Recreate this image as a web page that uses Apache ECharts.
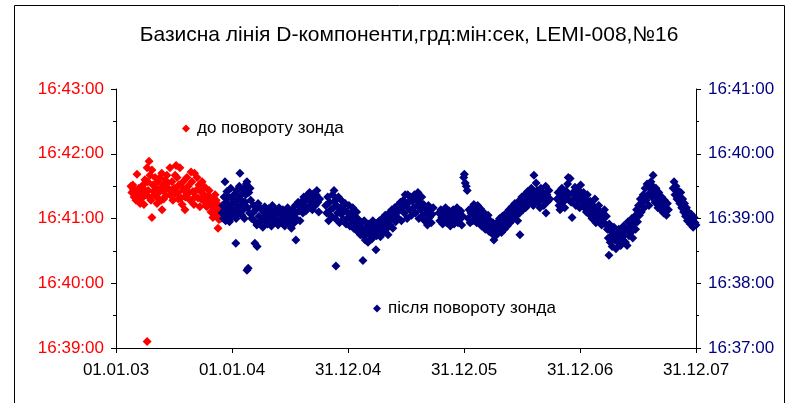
<!DOCTYPE html>
<html>
<head>
<meta charset="utf-8">
<script src="https://cdn.jsdelivr.net/npm/echarts@6/dist/echarts.min.js"></script>
<style>
  html, body { margin: 0; padding: 0; background: #fff; }
  #chart { width: 790px; height: 403px; }
</style>
</head>
<body>
<div id="chart"></div>
<script>
// x: days since 01.01.2003, y: arc-seconds past 16°00'00"
const xTickDays = [0, 365, 730, 1095, 1460, 1825];

// до повороту зонда (left axis)
const redObs = [
  [47,2490],[50,2484],[53,2491],[55,2487],[57,2480],[60,2486],[63,2477],[66,2501],[67,2485],[69,2482],[72,2488],[76,2474],
  [79,2484],[80,2489],[82,2479],[85,2491],[88,2473],[91,2496],[92,2486],[94,2482],[98,2507],[100,2494],[101,2486],[103,2480],
  [104,2513],[107,2500],[110,2477],[113,2505],[113,2461],[116,2491],[118,2485],[120,2482],[123,2498],[126,2488],[128,2480],
  [129,2474],[132,2494],[135,2484],[138,2498],[140,2488],[142,2477],[144,2502],[145,2468],[148,2491],[150,2478],[151,2485],
  [154,2496],[157,2481],[160,2500],[162,2493],[164,2488],[170,2507],[170,2482],[173,2486],[176,2494],[179,2477],[183,2488],
  [185,2483],[186,2500],[189,2509],[192,2498],[195,2484],[196,2478],[198,2491],[201,2507],[205,2479],[208,2473],[210,2488],
  [211,2494],[214,2486],[217,2468],[218,2480],[220,2481],[223,2498],[227,2490],[230,2484],[233,2477],[236,2503],[239,2494],
  [242,2485],[245,2473],[247,2502],[248,2480],[252,2486],[255,2498],[258,2479],[261,2491],[264,2471],[267,2485],[268,2478],
  [271,2494],[274,2477],[277,2482],[280,2489],[282,2478],[283,2472],[286,2471],[289,2481],[293,2486],[295,2480],[296,2475],
  [299,2466],[302,2479],[305,2461],[307,2470],[308,2473],[312,2482],[312,2468],[315,2477],[318,2464],[318,2472],[321,2451],
  [321,2473],[324,2459],[327,2468],[330,2460],[334,2472],
  [98,2346]
];

// після повороту зонда (right axis)
const navyObs = [
  [334,2345],[336,2352],[338,2340],[340,2360],[342,2348],[343,2374],[345,2338],[347,2355],[349,2365],[351,2343],[353,2350],
  [355,2360],[357,2337],[359,2346],[361,2368],[363,2353],[365,2341],[367,2358],[369,2348],[371,2362],[373,2344],[375,2355],
  [377,2317],[378,2340],[380,2366],[382,2350],[384,2358],[386,2345],[388,2370],[390,2382],[392,2352],[394,2362],[396,2343],
  [398,2356],[400,2348],[402,2367],[404,2340],[406,2355],[408,2362],[410,2372],[412,2374],[412,2292],[414,2350],[416,2294],
  [418,2364],[420,2345],[422,2368],[424,2357],[427,2340],[437,2317],[444,2314],
  [430,2345],[433,2352],[436,2338],[440,2348],[443,2334],[447,2354],[450,2342],[453,2336],[456,2349],[459,2340],[462,2332],
  [465,2346],[468,2351],[471,2338],[474,2343],[477,2335],[480,2349],[483,2340],[486,2346],[489,2333],[492,2352],[495,2342],
  [498,2337],[501,2348],[504,2340],[507,2345],[510,2334],[513,2350],[516,2339],[519,2344],[522,2336],[525,2348],[528,2341],
  [531,2333],[534,2346],[537,2339],[540,2350],[543,2336],[546,2344],[549,2340],[552,2331],[555,2348],[558,2342],[561,2336],
  [564,2352],[566,2320],[567,2345],[570,2339],[573,2355],[576,2347],[579,2338],
  [582,2350],[585,2356],[588,2345],[591,2360],[594,2352],[597,2347],[600,2358],[603,2362],[606,2350],[609,2364],[612,2355],
  [615,2360],[618,2348],[621,2363],[624,2357],[627,2352],[630,2362],[632,2366],[635,2355],[638,2346],[641,2358],
  [660,2352],[663,2345],[666,2360],[669,2338],[672,2355],[675,2348],[678,2342],[681,2362],[684,2350],[686,2366],[688,2356],
  [690,2340],[692,2296],[694,2352],[697,2345],[700,2360],[703,2336],[706,2350],[709,2344],[712,2356],[715,2339],[718,2348],
  [721,2354],[724,2335],[727,2346],[730,2341],[733,2352],[736,2333],
  [739,2345],[742,2338],[745,2350],[748,2331],[751,2342],[754,2336],[757,2346],[760,2328],[763,2339],[766,2333],[769,2325],
  [772,2336],[775,2330],[777,2301],[778,2324],[781,2338],[784,2320],[787,2332],[790,2327],[793,2318],[796,2335],[799,2324],
  [802,2330],[805,2321],[808,2338],[811,2327],[814,2333],[818,2311],[820,2324],[823,2336],
  [826,2329],[829,2338],[832,2323],[835,2333],[838,2340],[841,2327],[844,2336],[847,2343],[850,2330],[853,2338],[856,2325],
  [859,2345],[862,2334],[865,2340],[868,2348],[871,2331],[874,2342],[877,2350],[880,2337],[883,2345],[886,2352],[889,2340],
  [892,2348],[895,2355],[898,2338],[901,2350],
  [904,2357],[907,2345],[910,2362],[913,2352],[916,2340],[918,2362],[921,2355],[924,2348],[927,2360],[930,2343],[933,2356],
  [936,2350],[939,2362],[942,2345],[945,2358],[948,2352],[950,2364],[953,2340],[956,2355],[959,2348],[962,2360],[965,2343],
  [968,2353],[971,2338],[974,2350],[977,2345],[980,2334],[983,2352],[986,2341],[989,2348],[992,2336],[995,2344],[998,2350],
  [1016,2345],[1019,2338],[1022,2348],[1025,2341],[1028,2335],[1031,2346],[1034,2340],[1037,2350],[1040,2336],[1043,2344],
  [1046,2339],[1049,2347],[1052,2333],[1055,2343],[1058,2338],[1061,2348],[1064,2335],[1067,2345],[1070,2340],[1073,2350],
  [1076,2336],[1079,2344],[1082,2339],[1085,2347],[1088,2334],[1091,2342],[1094,2378],[1096,2381],[1099,2373],[1102,2370],
  [1105,2366],[1108,2340],[1111,2348],[1114,2336],
  [1117,2345],[1120,2350],[1123,2338],[1126,2353],[1129,2342],[1132,2348],[1135,2336],[1138,2352],[1141,2344],[1144,2339],
  [1147,2349],[1150,2333],[1153,2342],[1156,2337],[1159,2345],[1162,2330],[1165,2340],[1168,2334],[1171,2343],[1174,2328],
  [1177,2338],[1180,2332],[1183,2326],[1186,2336],[1189,2320],[1192,2330],[1195,2334],[1198,2325],[1201,2337],[1204,2329],
  [1207,2340],[1210,2332],[1213,2327],[1216,2342],[1219,2335],[1222,2330],
  [1225,2338],[1228,2345],[1231,2333],[1234,2341],[1237,2348],[1240,2336],[1243,2344],[1246,2351],[1249,2339],[1252,2347],
  [1255,2354],[1258,2342],[1261,2350],[1264,2338],[1267,2356],[1270,2345],[1271,2325],[1274,2353],[1277,2360],[1280,2348],
  [1283,2356],[1286,2362],[1289,2350],[1292,2358],[1295,2365],[1298,2353],
  [1301,2362],[1304,2356],[1307,2368],[1310,2360],[1313,2352],[1315,2380],[1317,2364],[1320,2358],[1322,2373],[1325,2366],
  [1328,2355],[1331,2362],[1334,2350],[1337,2368],[1340,2358],[1343,2364],[1346,2352],[1349,2360],[1352,2370],[1353,2345],
  [1356,2362],[1359,2356],[1362,2366],[1365,2358],
  [1388,2358],[1391,2364],[1394,2352],[1397,2348],[1400,2360],[1403,2368],[1406,2355],[1409,2362],[1412,2350],[1415,2366],
  [1418,2358],[1421,2372],[1423,2378],[1426,2362],[1429,2377],[1432,2355],[1435,2341],[1438,2364],[1441,2358],[1444,2369],
  [1447,2352],[1450,2362],[1453,2356],[1456,2366],[1459,2350],
  [1462,2371],[1465,2360],[1468,2355],[1471,2364],[1474,2350],[1477,2358],[1480,2346],[1483,2362],[1486,2353],[1489,2344],
  [1492,2356],[1495,2349],[1498,2340],[1501,2352],[1504,2345],[1507,2358],[1510,2336],[1513,2348],[1516,2342],[1519,2352],
  [1522,2338],[1525,2346],[1528,2334],[1531,2344],[1534,2340],[1537,2348],[1540,2335],[1543,2342],
  [1546,2330],[1549,2322],[1551,2306],[1552,2335],[1555,2318],[1558,2328],[1561,2314],[1564,2325],[1567,2332],[1570,2320],
  [1573,2312],[1576,2326],[1579,2318],[1582,2330],[1585,2322],[1588,2315],[1591,2328],[1594,2320],[1597,2333],[1600,2325],
  [1603,2318],[1606,2330],[1608,2315],[1611,2337],[1614,2324],[1617,2332],[1620,2327],[1623,2340],[1626,2322],[1629,2335],
  [1632,2342],[1635,2330],[1638,2348],[1641,2337],[1644,2352],[1647,2343],[1650,2358],[1653,2346],[1656,2355],
  [1659,2362],[1662,2350],[1665,2368],[1668,2357],[1671,2372],[1674,2362],[1677,2352],[1680,2368],[1683,2374],[1686,2360],
  [1689,2370],[1690,2380],[1693,2364],[1696,2355],[1699,2368],[1702,2360],[1705,2350],[1708,2364],[1711,2356],[1714,2348],
  [1717,2360],[1720,2352],[1723,2345],[1726,2357],[1729,2350],[1732,2343],[1735,2354],[1738,2348],
  [1753,2368],[1756,2374],[1759,2362],[1762,2370],[1765,2358],[1768,2366],[1771,2360],[1774,2354],[1777,2364],[1780,2350],
  [1783,2358],[1786,2346],[1789,2354],[1792,2342],[1795,2350],[1798,2338],[1801,2346],[1804,2340],[1807,2335],[1810,2344],
  [1813,2338],[1816,2332],[1819,2341],[1822,2336],[1825,2334],[1828,2332]
];

const pad2 = (n) => (n < 10 ? '0' : '') + n;

const fmtDms = (v) => {
  const m = Math.floor(v / 60);
  const s = Math.round(v - m * 60);
  return '16:' + pad2(m) + ':' + pad2(s);
};

const fmtDay = (v) => {
  const d = new Date(Date.UTC(2003, 0, 1) + v * 86400000);
  return pad2(d.getUTCDate()) + '.' + pad2(d.getUTCMonth() + 1) + '.' + pad2(d.getUTCFullYear() % 100);
};

const font = 'Liberation Sans, Arial, sans-serif';

const yAxisBase = (color, min, max, pos) => ({
  type: 'value',
  position: pos,
  min: min,
  max: max,
  interval: 60,
  axisLine: { show: true, lineStyle: { color: '#000', width: 1 } },
  axisTick: { show: true, inside: false, length: 5, lineStyle: { color: '#000' } },
  minorTick: { show: true, splitNumber: 2, length: 3, lineStyle: { color: '#000' } },
  splitLine: { show: false },
  axisLabel: {
    color: color,
    fontSize: 17,
    fontFamily: font,
    margin: 12,
    formatter: fmtDms
  }
});

const chart = echarts.init(document.getElementById('chart'), null, { renderer: 'canvas' });

chart.setOption({
  animation: false,
  backgroundColor: '#fff',
  title: {
    text: 'Базисна лінія D-компоненти,грд:мін:сек, LEMI-008,№16',
    left: 404,
    top: 20,
    textAlign: 'center',
    textStyle: { fontSize: 21, fontWeight: 'normal', color: '#000', fontFamily: font }
  },
  graphic: [
    {
      type: 'rect',
      shape: { x: 14.5, y: 5.5, width: 770, height: 420 },
      style: { fill: 'none', stroke: '#000', lineWidth: 1 },
      silent: true
    }
  ],
  legend: [
    {
      data: ['до повороту зонда'],
      left: 177,
      top: 115,
      icon: 'diamond',
      itemWidth: 8,
      itemHeight: 8,
      textStyle: { fontSize: 17, color: '#000', fontFamily: font, padding: [0, 0, 0, 2] }
    },
    {
      data: ['після повороту зонда'],
      left: 368,
      top: 295,
      icon: 'diamond',
      itemWidth: 8,
      itemHeight: 8,
      textStyle: { fontSize: 17, color: '#000', fontFamily: font, padding: [0, 0, 0, 2] }
    }
  ],
  grid: { left: 116, right: 94, top: 89, bottom: 55, containLabel: false },
  xAxis: {
    type: 'value',
    min: 0,
    max: 1825,
    interval: 365,
    axisLine: { show: true, lineStyle: { color: '#000', width: 1 } },
    axisTick: { show: true, length: 5, lineStyle: { color: '#000' } },
    splitLine: { show: false },
    axisLabel: {
      color: '#000',
      fontSize: 17,
      fontFamily: font,
      margin: 14,
      formatter: (v) => (xTickDays.indexOf(v) >= 0 ? fmtDay(v) : '')
    }
  },
  yAxis: [
    yAxisBase('#ff0000', 2340, 2580, 'left'),
    yAxisBase('#000080', 2220, 2460, 'right')
  ],
  series: [
    {
      name: 'до повороту зонда',
      type: 'scatter',
      yAxisIndex: 0,
      symbol: 'diamond',
      symbolSize: 9,
      itemStyle: { color: '#ff0000', opacity: 1 },
      data: redObs
    },
    {
      name: 'після повороту зонда',
      type: 'scatter',
      yAxisIndex: 1,
      symbol: 'diamond',
      symbolSize: 9,
      itemStyle: { color: '#000080', opacity: 1 },
      data: navyObs
    }
  ]
});
</script>
</body>
</html>
